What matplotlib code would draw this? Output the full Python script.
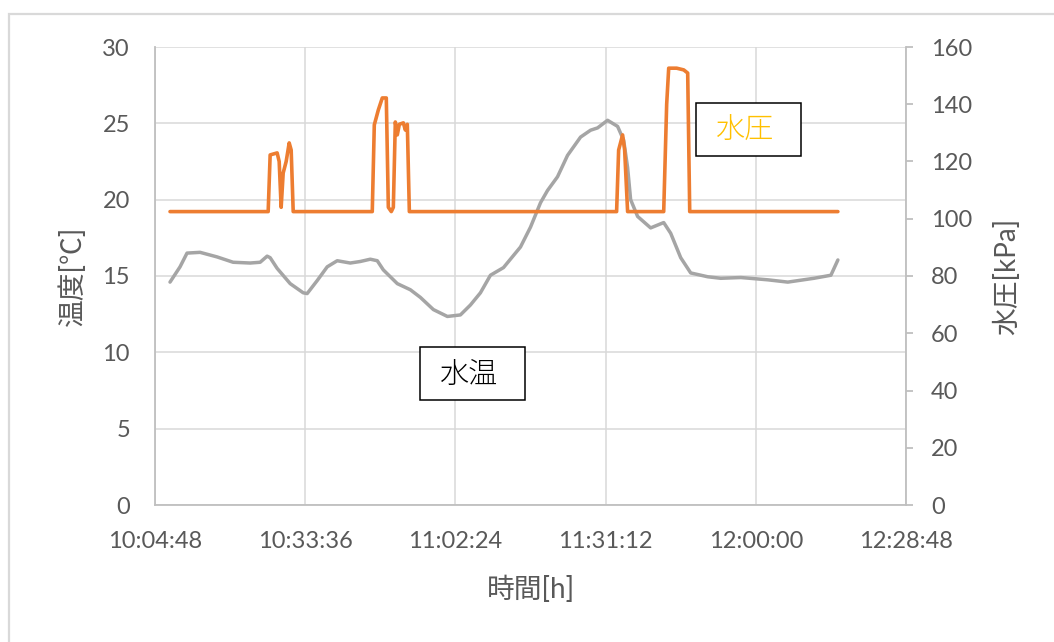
import matplotlib
matplotlib.use("Agg")
import matplotlib.pyplot as plt
from matplotlib.patches import Rectangle

plt.rcParams['font.family'] = ['Lato', 'Noto Sans CJK JP']

# Water temperature log (minutes after 10:00:00, degC)
temp_minutes = [7.68, 9.60, 10.94, 13.44, 16.70, 19.78, 23.04, 24.96, 26.30, 26.88,
                28.22, 30.72, 33.22, 33.98, 35.90, 37.82, 39.74, 42.24, 44.16, 46.08,
                47.42, 48.58, 51.26, 53.76, 55.68, 58.18, 60.86, 63.36, 65.28, 67.20,
                69.12, 71.62, 74.88, 76.80, 78.72, 80.06, 81.98, 83.90, 86.40, 88.32,
                89.66, 91.58, 93.50, 94.66, 95.42, 96.00, 97.34, 99.84, 102.34, 103.68,
                105.60, 107.52, 110.78, 113.28, 117.12, 122.30, 126.14, 131.14, 134.40, 135.74]
temp_values = [14.6, 15.6, 16.5, 16.55, 16.25, 15.9, 15.85, 15.9, 16.3, 16.2,
               15.5, 14.5, 13.9, 13.85, 14.7, 15.6, 16.0, 15.85, 15.95, 16.1,
               16.0, 15.4, 14.5, 14.1, 13.6, 12.8, 12.35, 12.45, 13.1, 13.9,
               15.05, 15.55, 16.9, 18.2, 19.8, 20.6, 21.5, 22.9, 24.1, 24.55,
               24.7, 25.2, 24.8, 23.9, 22.1, 20.0, 18.9, 18.15, 18.5, 17.8,
               16.2, 15.2, 14.95, 14.85, 14.9, 14.75, 14.6, 14.85, 15.05, 16.05]

# Water pressure log (minutes after 10:00:00, kPa)
pres_minutes = [7.68, 26.50, 26.88, 28.22, 28.61, 28.99, 29.38, 29.95, 30.53, 30.91,
                31.30, 46.46, 46.85, 47.62, 48.38, 49.15, 49.54, 50.11, 50.50, 50.88,
                51.26, 51.65, 52.42, 52.80, 53.18, 53.57, 93.31, 93.70, 94.46, 94.85,
                95.42, 102.34, 102.91, 103.30, 104.83, 106.18, 106.94, 107.33, 135.74]
pres_values = [102.5, 102.5, 122.3, 123.0, 120.0, 104.0, 116.0, 120.0, 126.5, 124.0,
               102.5, 102.5, 132.8, 138.0, 142.2, 142.2, 104.0, 102.5, 104.0, 133.8,
               129.3, 133.0, 133.5, 131.0, 133.0, 102.5, 102.5, 124.0, 129.3, 124.0,
               102.5, 102.5, 140.0, 152.6, 152.6, 152.0, 150.9, 102.5, 102.5]

# Time axis ticks (minutes after 10:00:00) and their labels
x_ticks = [4.8, 33.6, 62.4, 91.2, 120.0, 148.8]
x_tick_labels = ['10:04:48', '10:33:36', '11:02:24', '11:31:12', '12:00:00', '12:28:48']
temp_ticks = [0, 5, 10, 15, 20, 25, 30]
pres_ticks = [0, 20, 40, 60, 80, 100, 120, 140, 160]

TEXT = '#595959'
GRID = '#D9D9D9'
AXIS = '#BFBFBF'
ORANGE = '#ED7D31'
GRAY = '#A5A5A5'

W, H = 1054, 642
fig = plt.figure(figsize=(W / 100, H / 100), dpi=100)

# chart area frame
fig.add_artist(Rectangle((9 / W, -0.2), 1.5, 1.2 - 14 / H, transform=fig.transFigure,
                         facecolor='none', edgecolor=GRID, lw=1.6, zorder=0))

ax = fig.add_axes([155 / W, 1 - 505 / H, 751 / W, 458 / H])
ax2 = ax.twinx()

ax.plot(temp_minutes, temp_values, color=GRAY, lw=2.5, solid_joinstyle='round',
        solid_capstyle='round', zorder=3)
ax2.plot(pres_minutes, pres_values, color=ORANGE, lw=2.6, solid_joinstyle='round',
         solid_capstyle='round', zorder=3)

ax.set_xlim(x_ticks[0], x_ticks[-1])
ax.set_ylim(0, 30)
ax2.set_ylim(0, 160)

ax.set_xticks(x_ticks)
ax.set_xticklabels(x_tick_labels)
ax.set_yticks(temp_ticks)
ax2.set_yticks(pres_ticks)

ax.grid(True, color=GRID, lw=1.1, zorder=0)
ax.set_axisbelow(True)

for a in (ax, ax2):
    a.spines['top'].set_visible(False)
ax.spines['right'].set_visible(False)
ax2.spines['left'].set_visible(False)
ax2.spines['bottom'].set_visible(False)
for sp in (ax.spines['left'], ax.spines['bottom'], ax2.spines['right']):
    sp.set_color(AXIS)
    sp.set_linewidth(1.3)

ax.tick_params(axis='x', length=0, pad=18.5, labelsize=17, labelcolor=TEXT)
ax.tick_params(axis='y', length=0, pad=18, labelsize=17, labelcolor=TEXT)
ax2.tick_params(axis='y', length=5, width=1.3, color=AXIS, direction='out',
                pad=13, labelsize=17, labelcolor=TEXT)

ax.set_xlabel('時間[h]', fontsize=20, color=TEXT, va='center')
ax.xaxis.set_label_coords(0.5, (505 - 589) / 458)
ax.set_ylabel('温度[℃]', fontsize=20, color=TEXT, va='center')
ax.yaxis.set_label_coords((72 - 155) / 751, 0.5)
ax2.set_ylabel('水圧[kPa]', fontsize=20, color=TEXT, va='center')
ax2.yaxis.set_label_coords((1007 - 155) / 751, 0.5)

# series name boxes
def name_box(x0, y0, label, color):
    w, h = 105, 53
    fig.add_artist(Rectangle((x0 / W, 1 - (y0 + h) / H), w / W, h / H,
                             transform=fig.transFigure, facecolor='white',
                             edgecolor='black', lw=1.1, zorder=5))
    fig.text((x0 + w / 2 - 3) / W, 1 - (y0 + h / 2 + 1) / H, label, color=color,
             fontsize=21, ha='center', va='center', zorder=6,
             family=['Noto Sans CJK JP'], weight='light')

name_box(420, 347, '水温', 'black')
name_box(696, 103, '水圧', '#FFC000')

fig.savefig('out.png', dpi=100)
